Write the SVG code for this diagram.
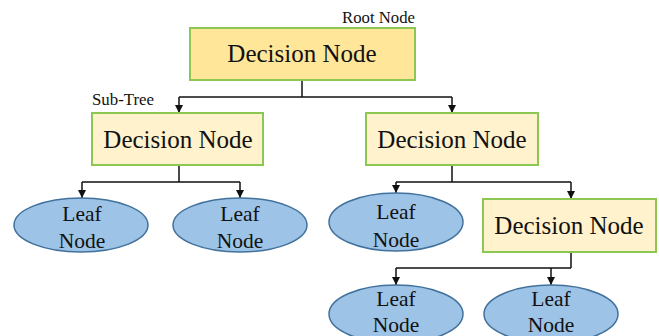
<svg xmlns="http://www.w3.org/2000/svg" width="659" height="336" viewBox="0 0 659 336">
<style>
.dn{stroke:#8CC653;stroke-width:2}
.root{fill:#FFE699}
.sub{fill:#FFF2CC}
.leaf{fill:#9DC3E6;stroke:#41719C;stroke-width:1.5}
.t{font-family:"Liberation Serif","Times New Roman",serif;fill:#111}
.big{font-size:25px}
.lf{font-size:21.5px}
.lbl{font-size:16px}
.c{fill:none;stroke:#111;stroke-width:1.5}
</style>
<defs>
<marker id="ah" viewBox="0 0 8 8" refX="8" refY="4" markerWidth="8" markerHeight="8" markerUnits="userSpaceOnUse" orient="auto">
<path d="M0,0 L8,4 L0,8 z" fill="#111"/>
</marker>
</defs>
<rect width="659" height="336" fill="#fff"/>
<g id="connectors">
<path class="c" d="M302,80 V97"/>
<path class="c" d="M179,97 H452"/>
<path class="c" d="M179,97 V113" marker-end="url(#ah)"/>
<path class="c" d="M452,97 V113" marker-end="url(#ah)"/>
<path class="c" d="M179,165 V182 M82,182 H240"/>
<path class="c" d="M82,182 V198" marker-end="url(#ah)"/>
<path class="c" d="M240,182 V198" marker-end="url(#ah)"/>
<path class="c" d="M452,165 V182 M396,182 H571"/>
<path class="c" d="M396,182 V193" marker-end="url(#ah)"/>
<path class="c" d="M571,182 V199" marker-end="url(#ah)"/>
<path class="c" d="M571,252 V268 M396,268 H571"/>
<path class="c" d="M396,268 V285" marker-end="url(#ah)"/>
<path class="c" d="M551,268 V285" marker-end="url(#ah)"/>
</g>
<g id="label-root"><text class="t lbl" x="342" y="23" textLength="73" lengthAdjust="spacingAndGlyphs">Root Node</text></g>
<g id="label-subtree"><text class="t lbl" x="92" y="105" textLength="62" lengthAdjust="spacingAndGlyphs">Sub-Tree</text></g>
<g id="root">
<rect class="dn root" x="190" y="28" width="225" height="52"/>
<text class="t big" x="302" y="62" text-anchor="middle">Decision Node</text>
</g>
<g id="decision-left">
<rect class="dn sub" x="92" y="113" width="171" height="52"/>
<text class="t big" x="178" y="148" text-anchor="middle">Decision Node</text>
</g>
<g id="decision-right">
<rect class="dn sub" x="366" y="113" width="172" height="52"/>
<text class="t big" x="452" y="148" text-anchor="middle">Decision Node</text>
</g>
<g id="decision-3">
<rect class="dn sub" x="483" y="199" width="173" height="53"/>
<text class="t big" x="569" y="234" text-anchor="middle">Decision Node</text>
</g>
<g id="leaf-1">
<ellipse class="leaf" cx="81" cy="225" rx="67" ry="27"/>
<text class="t lf" x="82" y="221" text-anchor="middle">Leaf</text>
<text class="t lf" x="82" y="248" text-anchor="middle">Node</text>
</g>
<g id="leaf-2">
<ellipse class="leaf" cx="240" cy="225" rx="67" ry="27"/>
<text class="t lf" x="240" y="221" text-anchor="middle">Leaf</text>
<text class="t lf" x="240" y="248" text-anchor="middle">Node</text>
</g>
<g id="leaf-3">
<ellipse class="leaf" cx="396" cy="222" rx="67" ry="29"/>
<text class="t lf" x="396" y="219" text-anchor="middle">Leaf</text>
<text class="t lf" x="396" y="247" text-anchor="middle">Node</text>
</g>
<g id="leaf-4">
<ellipse class="leaf" cx="396" cy="314" rx="67" ry="29"/>
<text class="t lf" x="396" y="306" text-anchor="middle">Leaf</text>
<text class="t lf" x="396" y="332" text-anchor="middle">Node</text>
</g>
<g id="leaf-5">
<ellipse class="leaf" cx="551" cy="314" rx="67" ry="29"/>
<text class="t lf" x="551" y="306" text-anchor="middle">Leaf</text>
<text class="t lf" x="551" y="332" text-anchor="middle">Node</text>
</g>
</svg>
